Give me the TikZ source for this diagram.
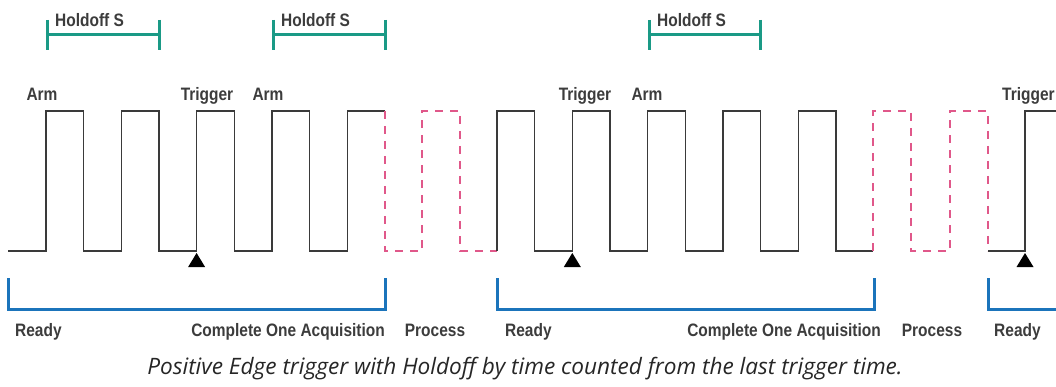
\documentclass[tikz,border=0pt]{standalone}
\usepackage{fontspec}
\setmainfont{Liberation Sans}
\newfontfamily\lblfont{Liberation Sans}[FakeStretch=0.86]
\newfontfamily\capfont{Open Sans}
\usepackage{xcolor}
\usetikzlibrary{positioning}
\definecolor{sigcol}{HTML}{3A3A3A}
\definecolor{holdcol}{HTML}{1A9A86}
\definecolor{acqcol}{HTML}{1B74BB}
\definecolor{proccol}{HTML}{E0588A}
\definecolor{txtcol}{HTML}{3C3C3C}

\begin{document}
\begin{tikzpicture}[x=1pt, y=-1pt,
  every node/.style={font=\lblfont\bfseries\fontsize{18}{20}\selectfont, text=txtcol, inner sep=0pt},
  sig/.style={draw=sigcol, line width=1.4pt},
  proc/.style={draw=proccol, line width=1.4pt, dash pattern=on 8pt off 7pt},
  hold/.style={draw=holdcol, line width=3pt},
  acq/.style={draw=acqcol, line width=3pt},
  lbl/.style={anchor=base}]
  \useasboundingbox (0,0) rectangle (1056,387);

  \draw[sig] (8,251) \foreach \r in {46,121.3,196.6,272} { -- (\r,251) -- (\r,111) -- ({\r+37.7},111) -- ({\r+37.7},251) }
    -- (347.2,251) -- (347.2,111) -- (385,111);
  \draw[proc] (385,111) -- (385,251) -- (422,251) -- (422,111) -- (460,111) -- (460,251) -- (497,251);
  \draw[sig] (497,251) \foreach \r in {497,572.3,647.6,723,798.2} { -- (\r,251) -- (\r,111) -- ({\r+37.7},111) -- ({\r+37.7},251) }
    -- (873,251);
  \draw[proc] (873,251) -- (873,111) -- (911,111) -- (911,251) -- (950,251) -- (950,111) -- (988,111) -- (988,251);
  \draw[sig] (988,251) -- (1025,251) -- (1025,111) -- (1056,111);

  \foreach \t in {196.6,572.3,1025}
    \fill[black] (\t,253) -- ++(-8.5,14) -- ++(17,0) -- cycle;

  \foreach \a/\b/\n in {47/159/h1, 273/385/h2, 649/760/h3} {
    \draw[hold] (\a,20) -- (\a,50) (\a,35) -- (\b,35) (\b,20) -- (\b,50);
    \node[anchor=base west] (\n) at (\a+8,27) {Holdoff S};
  }

  \node[lbl] (arm1) at (42,101) {Arm};
  \node[lbl] (trg1) at (207,101) {Trigger};
  \node[lbl] (arm2) at (268,101) {Arm};
  \node[lbl] (trg2) at (585,101) {Trigger};
  \node[lbl] (arm3) at (647,101) {Arm};
  \node[anchor=base west] (trg3) at (1002,101) {Trigger};

  \draw[acq] (8,278) -- (8,309) -- (385,309) -- (385,278);
  \draw[acq] (497,278) -- (497,309) -- (874,309) -- (874,278);
  \draw[acq] (988,278) -- (988,309) -- (1056,309);

  \node[anchor=base west] (rdy1) at (15,336) {Ready};
  \node[anchor=base east] (cmp1) at (385,336) {Complete One Acquisition};
  \node[lbl] (prc1) at (435,336) {Process};
  \node[anchor=base west] (rdy2) at (505,336) {Ready};
  \node[anchor=base east] (cmp2) at (881,336) {Complete One Acquisition};
  \node[lbl] (prc2) at (932,336) {Process};
  \node[anchor=base west] (rdy3) at (994,336) {Ready};

  \node[lbl, text=black!85, font=\capfont\itshape\fontsize{22.6}{26}\selectfont] (cap) at (525,374)
    {Positive Edge trigger with Holdoff by time counted from the last trigger time.};
\end{tikzpicture}
\end{document}
